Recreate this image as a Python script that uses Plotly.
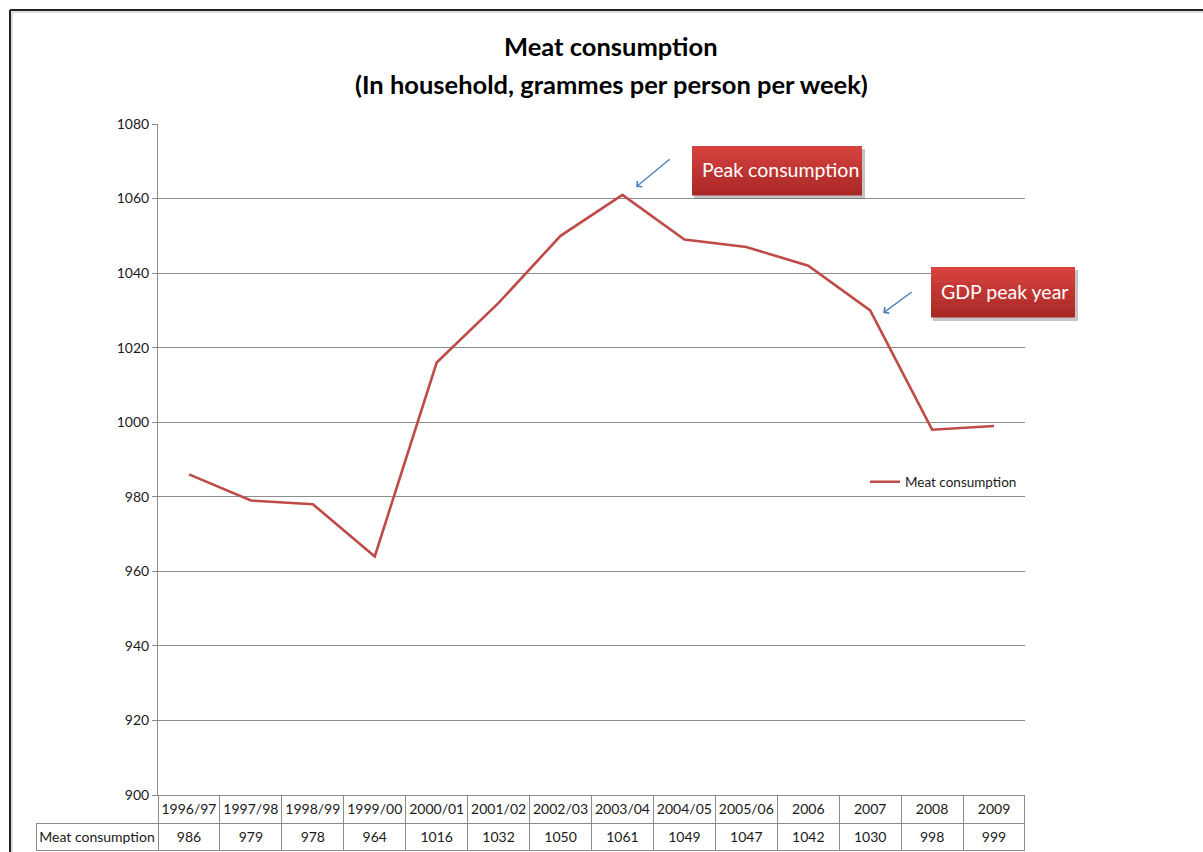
import plotly.graph_objects as go

# Household meat consumption, grammes per person per week
periods = ["1996/97", "1997/98", "1998/99", "1999/00", "2000/01", "2001/02", "2002/03",
           "2003/04", "2004/05", "2005/06", "2006", "2007", "2008", "2009"]
meat_consumption = [986, 979, 978, 964, 1016, 1032, 1050, 1061, 1049, 1047, 1042, 1030, 998, 999]

series_name = "Meat consumption"
title_lines = ["Meat consumption", "(In household, grammes per person per week)"]
callout_labels = ["Peak consumption", "GDP peak year"]
callout_periods = ["2003/04", "2007"]

W, H = 1203, 852
ML, MR, MT, MB = 36, 178, 124, 0
PW, PH = W - ML - MR, H - MT - MB

LINE_RED = "#BE4B48"
GRID = "#8C8C8C"
TEXT = "#1a1a1a"
FONT = "Lato"
CLEAR = "rgba(0,0,0,0)"


def px(x):
    return (x - ML) / PW


def py(y):
    return (H - y) / PH


fig = go.Figure()

fig.add_trace(go.Scatter(
    x=periods, y=meat_consumption, mode="lines", name=series_name,
    line=dict(color=LINE_RED, width=2.6),
    xaxis="x", yaxis="y",
))

# Data table under the chart: period row and value row
n = len(periods)
first_col = 122
col_w = (PW - first_col) / n
fig.add_trace(go.Table(
    domain=dict(x=[0, 1], y=[0, py(795)]),
    columnwidth=[first_col] + [col_w] * n,
    header=dict(
        values=[""] + periods,
        height=28,
        align="center",
        fill_color=[CLEAR] + ["white"] * n,
        line=dict(color=[CLEAR] + [GRID] * n, width=1),
        font=dict(family=FONT, size=14, color=TEXT),
    ),
    cells=dict(
        values=[[series_name.replace(" ", "\u00a0")]] + [[v] for v in meat_consumption],
        height=27,
        align="center",
        fill_color="white",
        line=dict(color=GRID, width=1),
        font=dict(family=FONT, size=14, color=TEXT),
    ),
))

fig.update_layout(
    width=W, height=H,
    margin=dict(l=ML, r=MR, t=MT, b=MB, pad=0, autoexpand=False),
    paper_bgcolor="white", plot_bgcolor="white",
    xaxis=dict(
        domain=[px(158), 1], type="category", range=[-0.5, n - 0.5],
        showticklabels=False, showgrid=False, zeroline=False, automargin=False,
        showline=True, linecolor=GRID, linewidth=1, ticks="",
    ),
    yaxis=dict(
        domain=[py(795), 1], range=[900, 1080], dtick=20, automargin=False,
        showgrid=True, gridcolor=GRID, gridwidth=1, zeroline=False,
        showline=True, linecolor=GRID, linewidth=1,
        ticks="outside", ticklen=5, tickcolor=GRID,
        tickfont=dict(family=FONT, size=14, color=TEXT),
    ),
    legend=dict(
        x=px(865), y=py(482), xanchor="left", yanchor="middle",
        bgcolor="rgba(0,0,0,0)", borderwidth=0,
        font=dict(family=FONT, size=13.5, color=TEXT),
    ),
    showlegend=True,
)

# Two-line bold title
for text, yc in zip(title_lines, [46, 84]):
    fig.add_annotation(xref="paper", yref="paper", x=px(611), y=py(yc),
                       text="<b>%s</b>" % text, showarrow=False,
                       xanchor="center", yanchor="middle",
                       font=dict(family=FONT, size=25.5, color="#000000"))

# Outer frame (left and top edges)
frame = [
    dict(x0=px(10), x1=px(10), y0=py(10), y1=py(852), color="#222222", width=2),
    dict(x0=px(10), x1=px(1203), y0=py(10), y1=py(10), color="#222222", width=2),
    dict(x0=px(12), x1=px(12), y0=py(12), y1=py(852), color="#BBBBBB", width=1),
    dict(x0=px(12), x1=px(1203), y0=py(12), y1=py(12), color="#BBBBBB", width=1),
]
for f in frame:
    fig.add_shape(type="line", xref="paper", yref="paper",
                  x0=f["x0"], x1=f["x1"], y0=f["y0"], y1=f["y1"],
                  line=dict(color=f["color"], width=f["width"]))


def callout_box(x0, y0, x1, y1, label, text_x):
    # drop shadow
    fig.add_shape(type="rect", xref="paper", yref="paper",
                  x0=px(x0 + 2), x1=px(x1 + 3), y0=py(y1 + 4), y1=py(y0 + 3),
                  fillcolor="rgba(90,90,90,0.35)", line=dict(width=0), layer="above")
    # vertical gradient fill, lighter at the top
    bands = 14
    top_rgb = (214, 66, 62)
    bot_rgb = (170, 40, 38)
    for i in range(bands):
        t = i / (bands - 1)
        c = tuple(round(top_rgb[k] + (bot_rgb[k] - top_rgb[k]) * t) for k in range(3))
        ya = y0 + (y1 - y0) * i / bands
        yb = y0 + (y1 - y0) * (i + 1) / bands
        fig.add_shape(type="rect", xref="paper", yref="paper",
                      x0=px(x0), x1=px(x1), y0=py(yb + 0.5), y1=py(ya),
                      fillcolor="rgb(%d,%d,%d)" % c, line=dict(width=0), layer="above")
    fig.add_annotation(xref="paper", yref="paper", x=px(text_x), y=py((y0 + y1) / 2 - 1),
                       text=label, showarrow=False, xanchor="center", yanchor="middle",
                       font=dict(family=FONT, size=19.5, color="white"))


callout_box(692, 146, 862, 195, callout_labels[0], 780)
callout_box(931, 267, 1075, 317, callout_labels[1], 1004)

# Arrows pointing at the labelled periods
arrow_specs = [
    (periods.index(callout_periods[0]) + 0.22, 1063.1, 35, -29),
    (periods.index(callout_periods[1]) + 0.21, 1029.3, 30, -22),
]
for xi, yv, ax, ay in arrow_specs:
    fig.add_annotation(x=xi, y=yv, xref="x", yref="y", text="", showarrow=True,
                       ax=ax, ay=ay, axref="pixel", ayref="pixel",
                       arrowhead=4, arrowsize=1.1, arrowwidth=1.3, arrowcolor="#4A7EBB")

fig.write_html("out.html")
